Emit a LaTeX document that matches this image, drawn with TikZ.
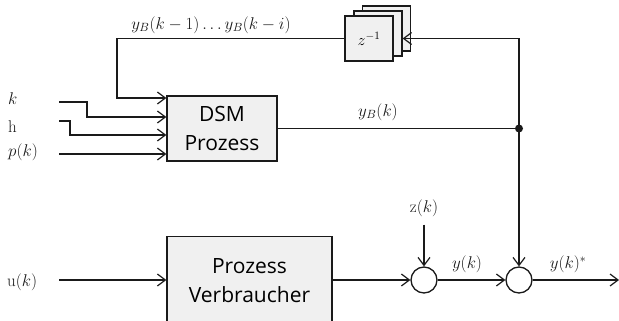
\RequirePackage{fix-cm}
\documentclass[tikz,border=0pt]{standalone}
\usepackage{fontspec}
\newfontfamily\boxfont{Open Sans}
\usetikzlibrary{arrows.meta}
\definecolor{boxgray}{HTML}{F0F0F0}
\definecolor{ink}{HTML}{1A1A1A}
\tikzset{
  line/.style={draw=ink, line width=1.2pt},
  conn/.style={line, -{Straight Barb[length=8pt,width=12pt,line width=1.2pt]}},
  blockbox/.style={draw=ink, line width=1.3pt, fill=boxgray, font=\boxfont\fontsize{21}{29}\selectfont, align=center, inner sep=0pt},
  zbox/.style={draw=ink, line width=1.2pt, fill=boxgray, minimum width=48pt, minimum height=45pt, inner sep=0pt, font=\fontsize{16}{19}\selectfont},
  sumc/.style={circle, draw=ink, line width=1.3pt, fill=white, minimum size=26pt, inner sep=0pt},
  lbl/.style={font=\fontsize{17}{20}\selectfont, inner sep=0pt, text=ink},
  dot/.style={circle, fill=ink, minimum size=8pt, inner sep=0pt}
}
\begin{document}
\begin{tikzpicture}[x=1pt, y={(0pt,-1pt)}]
\useasboundingbox (0,0) rectangle (619,321);
\clip (0,0) rectangle (619,321);

% blocks
\node[blockbox, minimum width=110pt, minimum height=65pt] (dsm) at (222,128.5) {DSM\\Prozess};
\node[blockbox, minimum width=165pt, minimum height=88pt] (proc) at (249.5,280.5) {Prozess\\Verbraucher};

% delay stack
\node[zbox] (z3) at (386.5,28.5) {};
\node[zbox] (z2) at (378,33.5) {};
\node[zbox] (z1) at (369,38.5) {$z^{-1}$};

% summation circles and junction
\node[sumc] (s1) at (424,280) {};
\node[sumc] (s2) at (519,280) {};
\node[dot] (jn) at (519,128.5) {};

% input labels
\node[lbl, anchor=west] (lk) at (8,99) {$k$};
\node[lbl, anchor=west] (lh) at (8,127) {$\mathrm{h}$};
\node[lbl, anchor=west] (lp) at (8,152) {$p(k)$};
\node[lbl, anchor=west] (lu) at (7,282) {$\mathrm{u}(k)$};
\node[lbl] (lz) at (424,208) {$\mathrm{z}(k)$};

% signal labels
\node[lbl] (lyb) at (211,25) {$y_B(k-1)\ldots y_B(k-i)$};
\node[lbl] (lybk) at (378,112) {$y_B(k)$};
\node[lbl] (ly) at (467,264) {$y(k)$};
\node[lbl] (lys) at (568,264) {$y(k)^{*}$};

% free ends
\coordinate (kin) at (59,102);
\coordinate (hin) at (59,121);
\coordinate (pin) at (59,154);
\coordinate (uin) at (59,280);
\coordinate (ztop) at (519,38.5);
\coordinate (out) at (619,280);
\coordinate (fbx) at (117,38.5);

% connectors
\draw[conn] (z1.west) -- (fbx) |- ([yshift=30.5pt]dsm.west);
\draw[conn] (kin) -- (87,102) |- ([yshift=11.5pt]dsm.west);
\draw[conn] (hin) -- (70,121) |- ([yshift=-6.5pt]dsm.west);
\draw[conn] (pin) -- ([yshift=-25.5pt]dsm.west);
\draw[line] (dsm.east) -- (jn.center);
\draw[conn] (jn.center) -- (ztop) -- (z2.east |- ztop);
\draw[conn] (jn.center) -- (s2.north);
\draw[conn] (uin) -- (proc.west |- uin);
\draw[conn] (proc.east |- s1.west) -- (s1.west);
\draw[conn] ([yshift=-8pt]lz.south) -- (s1.north);
\draw[conn] (s1.east) -- (s2.west);
\draw[conn] (s2.east) -- (out);
\end{tikzpicture}
\end{document}
